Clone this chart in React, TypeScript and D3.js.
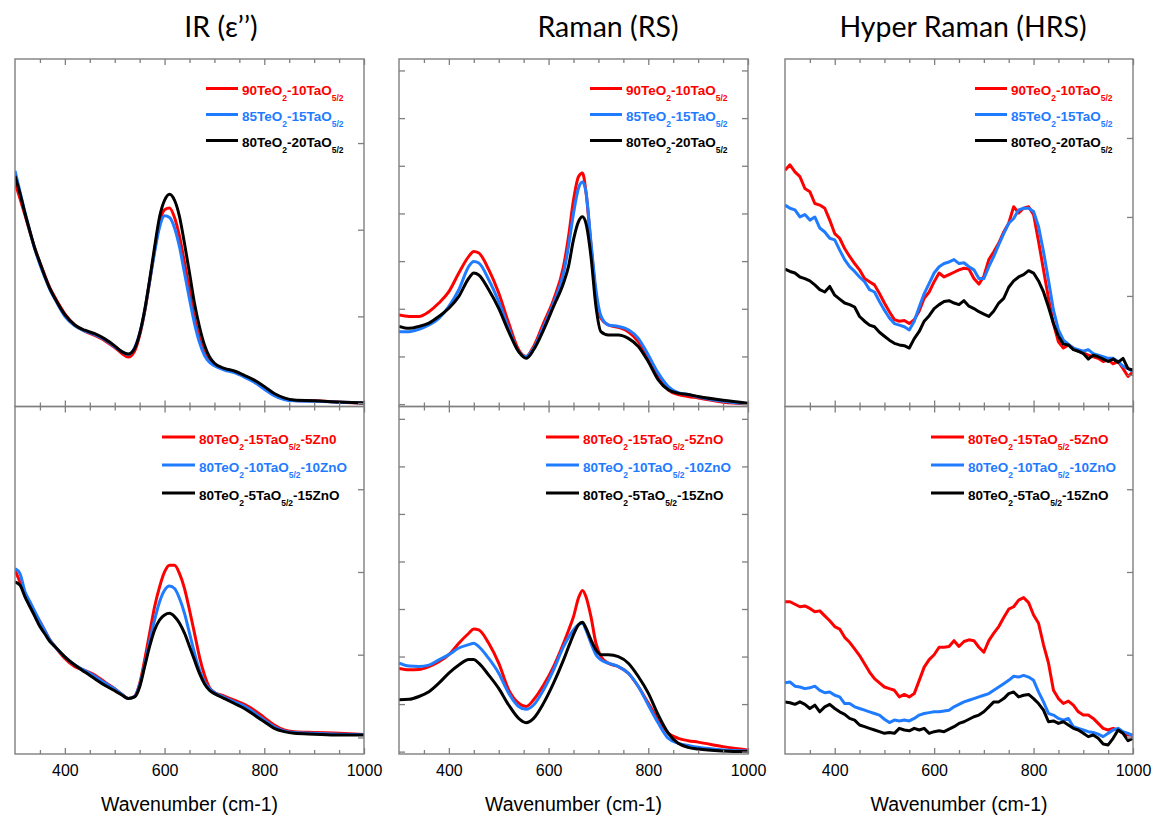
import React, { useEffect, useRef } from 'react';
import * as d3 from 'd3';

// colours of the three compositions in every panel
const RED = '#ff0000';
const BLUE = '#1f7bff';
const BLACK = '#000000';
const GRAY = '#7f7f7f';

// wavenumber grids (cm-1)
const irWave = [300, 310, 320, 330, 340, 350, 360, 370, 380, 400, 420, 440, 460, 480, 500, 515, 527, 540, 550, 560, 570, 580, 590, 600, 610, 620, 630, 640, 650, 660, 670, 680, 690, 700, 720, 740, 760, 780, 800, 820, 840, 860, 900, 950, 1000];
const ramanWave = [300, 320, 340, 360, 380, 400, 420, 440, 450, 460, 480, 500, 520, 540, 555, 570, 590, 610, 630, 640, 650, 660, 668, 675, 685, 695, 705, 720, 740, 760, 780, 800, 820, 840, 860, 880, 900, 950, 1000];
const hrsWave = [300, 310, 320, 330, 340, 350, 360, 370, 380, 390, 400, 410, 420, 430, 440, 450, 460, 470, 480, 490, 500, 510, 520, 530, 540, 550, 560, 570, 580, 590, 600, 610, 620, 630, 640, 650, 660, 670, 680, 690, 700, 710, 720, 730, 740, 750, 760, 770, 780, 790, 800, 810, 820, 830, 840, 850, 860, 870, 880, 890, 900, 910, 920, 930, 940, 950, 960, 970, 980, 990, 1000];

// IR, TeO2-TaO5/2
const irTopRed = [2.54, 2.36, 2.17, 1.97, 1.78, 1.62, 1.47, 1.33, 1.22, 1.03, 0.90, 0.83, 0.78, 0.72, 0.64, 0.57, 0.53, 0.60, 0.78, 1.05, 1.40, 1.76, 2.08, 2.23, 2.25, 2.14, 1.92, 1.62, 1.30, 0.98, 0.75, 0.58, 0.49, 0.44, 0.39, 0.36, 0.31, 0.25, 0.17, 0.09, 0.045, 0.03, 0.025, 0.01, 0.0];
const irTopBlue = [2.68, 2.44, 2.20, 1.98, 1.77, 1.60, 1.45, 1.31, 1.20, 1.00, 0.89, 0.83, 0.79, 0.73, 0.65, 0.59, 0.56, 0.64, 0.80, 1.06, 1.40, 1.74, 2.03, 2.16, 2.14, 2.02, 1.80, 1.50, 1.20, 0.92, 0.70, 0.55, 0.47, 0.43, 0.38, 0.35, 0.30, 0.24, 0.16, 0.085, 0.04, 0.025, 0.02, 0.01, 0.0];
const irTopBlack = [2.62, 2.42, 2.19, 1.98, 1.78, 1.62, 1.46, 1.32, 1.21, 1.02, 0.90, 0.84, 0.80, 0.74, 0.66, 0.59, 0.565, 0.63, 0.80, 1.07, 1.42, 1.80, 2.15, 2.34, 2.41, 2.34, 2.15, 1.84, 1.50, 1.15, 0.88, 0.67, 0.535, 0.46, 0.40, 0.37, 0.32, 0.265, 0.19, 0.11, 0.06, 0.035, 0.027, 0.012, 0.0];

// IR, TeO2-TaO5/2-ZnO
const irBotRed = [2.02, 1.88, 1.74, 1.62, 1.50, 1.40, 1.29, 1.18, 1.10, 0.955, 0.855, 0.81, 0.755, 0.67, 0.59, 0.52, 0.47, 0.50, 0.65, 0.935, 1.26, 1.58, 1.82, 2.00, 2.08, 2.08, 1.98, 1.80, 1.54, 1.26, 0.975, 0.755, 0.605, 0.545, 0.50, 0.45, 0.40, 0.33, 0.24, 0.15, 0.09, 0.07, 0.06, 0.05, 0.035];
const irBotBlue = [2.04, 1.98, 1.76, 1.64, 1.52, 1.40, 1.29, 1.18, 1.10, 0.975, 0.875, 0.81, 0.74, 0.66, 0.585, 0.52, 0.47, 0.495, 0.635, 0.875, 1.16, 1.42, 1.64, 1.78, 1.83, 1.80, 1.68, 1.50, 1.26, 1.02, 0.815, 0.67, 0.59, 0.54, 0.485, 0.43, 0.38, 0.30, 0.21, 0.13, 0.08, 0.06, 0.05, 0.04, 0.035];
const irBotBlack = [1.88, 1.84, 1.70, 1.58, 1.46, 1.34, 1.25, 1.16, 1.10, 0.975, 0.875, 0.79, 0.71, 0.63, 0.565, 0.51, 0.47, 0.49, 0.61, 0.855, 1.10, 1.30, 1.42, 1.48, 1.50, 1.46, 1.38, 1.26, 1.10, 0.935, 0.775, 0.65, 0.57, 0.53, 0.47, 0.41, 0.35, 0.27, 0.19, 0.11, 0.07, 0.05, 0.04, 0.03, 0.03];

// Raman
const ramTopRed = [1.87, 1.84, 1.84, 1.94, 2.12, 2.36, 2.75, 3.10, 3.20, 3.17, 2.82, 2.33, 1.70, 1.14, 1.00, 1.21, 1.70, 2.19, 2.89, 3.51, 4.28, 4.77, 4.85, 4.45, 3.35, 2.30, 1.80, 1.66, 1.61, 1.52, 1.31, 0.96, 0.58, 0.30, 0.20, 0.16, 0.13, 0.04, 0.01];
const ramTopBlue = [1.52, 1.52, 1.57, 1.66, 1.80, 2.05, 2.40, 2.89, 2.99, 2.96, 2.61, 2.15, 1.59, 1.10, 1.00, 1.17, 1.63, 2.12, 2.75, 3.31, 4.00, 4.53, 4.66, 4.45, 3.40, 2.40, 1.85, 1.66, 1.63, 1.56, 1.38, 1.03, 0.65, 0.37, 0.24, 0.20, 0.15, 0.06, 0.01];
const ramTopBlack = [1.63, 1.59, 1.63, 1.70, 1.84, 2.01, 2.26, 2.64, 2.75, 2.71, 2.40, 2.01, 1.52, 1.10, 0.96, 1.14, 1.56, 2.05, 2.54, 2.89, 3.45, 3.83, 3.93, 3.79, 3.10, 2.05, 1.52, 1.45, 1.45, 1.38, 1.21, 0.89, 0.51, 0.30, 0.23, 0.20, 0.16, 0.08, 0.02];
const ramBotRed = [1.75, 1.72, 1.73, 1.79, 1.89, 2.04, 2.28, 2.49, 2.58, 2.56, 2.28, 1.86, 1.30, 1.02, 0.95, 1.09, 1.40, 1.79, 2.28, 2.55, 2.84, 3.23, 3.39, 3.26, 2.84, 2.28, 2.00, 1.86, 1.79, 1.65, 1.37, 1.02, 0.67, 0.39, 0.28, 0.23, 0.20, 0.105, 0.035];
const ramBotBlue = [1.86, 1.80, 1.79, 1.82, 1.93, 2.04, 2.18, 2.25, 2.28, 2.21, 1.96, 1.65, 1.23, 0.95, 0.89, 0.98, 1.30, 1.72, 2.21, 2.40, 2.56, 2.67, 2.70, 2.56, 2.28, 2.04, 1.93, 1.86, 1.79, 1.65, 1.37, 0.98, 0.60, 0.28, 0.175, 0.13, 0.09, 0.035, 0.014];
const ramBotBlack = [1.09, 1.10, 1.16, 1.26, 1.44, 1.65, 1.82, 1.94, 1.94, 1.86, 1.61, 1.33, 0.98, 0.70, 0.61, 0.70, 1.02, 1.44, 1.93, 2.20, 2.46, 2.67, 2.72, 2.60, 2.35, 2.14, 2.04, 2.04, 2.00, 1.86, 1.58, 1.23, 0.77, 0.39, 0.175, 0.09, 0.056, 0.014, 0.0];

// Hyper Raman
const hrsTopRed = [2.59, 2.66, 2.57, 2.51, 2.36, 2.32, 2.17, 2.15, 2.11, 1.96, 1.79, 1.73, 1.60, 1.50, 1.41, 1.33, 1.22, 1.18, 1.14, 1.03, 0.91, 0.80, 0.70, 0.68, 0.69, 0.65, 0.70, 0.81, 0.97, 1.05, 1.18, 1.29, 1.24, 1.27, 1.30, 1.33, 1.35, 1.34, 1.22, 1.15, 1.25, 1.46, 1.56, 1.67, 1.81, 1.92, 2.13, 2.05, 2.11, 2.13, 2.03, 1.69, 1.33, 0.97, 0.65, 0.42, 0.34, 0.38, 0.34, 0.30, 0.28, 0.25, 0.23, 0.21, 0.17, 0.19, 0.14, 0.17, 0.08, -0.02, 0.04];
const hrsTopBlue = [2.15, 2.11, 2.09, 2.00, 2.03, 1.96, 2.00, 1.86, 1.81, 1.73, 1.71, 1.58, 1.46, 1.37, 1.31, 1.24, 1.18, 1.08, 1.05, 0.93, 0.82, 0.72, 0.65, 0.63, 0.61, 0.57, 0.68, 0.86, 1.03, 1.16, 1.29, 1.37, 1.41, 1.43, 1.46, 1.41, 1.42, 1.37, 1.33, 1.22, 1.22, 1.37, 1.50, 1.65, 1.79, 1.92, 1.98, 2.09, 2.11, 2.11, 2.07, 1.88, 1.56, 1.20, 0.82, 0.57, 0.44, 0.39, 0.34, 0.32, 0.30, 0.32, 0.27, 0.25, 0.23, 0.21, 0.21, 0.17, 0.11, 0.08, 0.04];
const hrsTopBlack = [1.34, 1.31, 1.29, 1.24, 1.22, 1.19, 1.14, 1.08, 1.05, 1.12, 1.01, 0.96, 0.91, 0.89, 0.86, 0.74, 0.68, 0.63, 0.61, 0.54, 0.49, 0.44, 0.40, 0.38, 0.37, 0.34, 0.46, 0.55, 0.68, 0.75, 0.84, 0.89, 0.93, 0.94, 0.91, 0.89, 0.94, 0.87, 0.84, 0.80, 0.77, 0.74, 0.81, 0.91, 0.97, 1.11, 1.19, 1.24, 1.27, 1.32, 1.29, 1.19, 1.05, 0.86, 0.65, 0.49, 0.39, 0.38, 0.32, 0.30, 0.27, 0.20, 0.25, 0.23, 0.20, 0.17, 0.20, 0.16, 0.21, 0.08, 0.06];
const hrsBotRed = [1.64, 1.64, 1.61, 1.58, 1.59, 1.56, 1.52, 1.53, 1.47, 1.41, 1.34, 1.31, 1.21, 1.15, 1.07, 0.99, 0.89, 0.79, 0.71, 0.66, 0.61, 0.59, 0.57, 0.49, 0.52, 0.49, 0.53, 0.69, 0.85, 0.94, 1.00, 1.09, 1.09, 1.10, 1.17, 1.10, 1.16, 1.18, 1.17, 1.09, 1.03, 1.17, 1.26, 1.34, 1.45, 1.55, 1.58, 1.66, 1.69, 1.63, 1.48, 1.38, 1.12, 0.90, 0.57, 0.47, 0.41, 0.44, 0.39, 0.31, 0.27, 0.27, 0.23, 0.17, 0.11, 0.09, 0.11, 0.09, 0.05, 0.03, 0.03];
const hrsBotBlue = [0.66, 0.67, 0.62, 0.61, 0.59, 0.60, 0.62, 0.57, 0.54, 0.55, 0.51, 0.49, 0.41, 0.41, 0.37, 0.35, 0.33, 0.31, 0.29, 0.27, 0.22, 0.18, 0.21, 0.20, 0.21, 0.20, 0.23, 0.27, 0.29, 0.30, 0.31, 0.31, 0.32, 0.33, 0.37, 0.40, 0.43, 0.45, 0.47, 0.49, 0.51, 0.53, 0.57, 0.61, 0.65, 0.69, 0.74, 0.73, 0.75, 0.73, 0.69, 0.55, 0.43, 0.29, 0.27, 0.23, 0.21, 0.23, 0.13, 0.11, 0.09, 0.07, 0.06, 0.04, 0.01, 0.05, 0.09, 0.11, 0.07, 0.05, 0.02];
const hrsBotBlack = [0.43, 0.42, 0.40, 0.43, 0.40, 0.35, 0.39, 0.31, 0.37, 0.40, 0.35, 0.31, 0.28, 0.23, 0.21, 0.15, 0.13, 0.11, 0.09, 0.07, 0.05, 0.06, 0.05, 0.11, 0.09, 0.08, 0.11, 0.09, 0.11, 0.05, 0.07, 0.08, 0.07, 0.10, 0.13, 0.17, 0.19, 0.22, 0.25, 0.27, 0.31, 0.37, 0.43, 0.43, 0.47, 0.53, 0.55, 0.49, 0.51, 0.52, 0.47, 0.41, 0.33, 0.19, 0.20, 0.17, 0.19, 0.15, 0.11, 0.09, 0.05, 0.01, 0.03, -0.01, -0.08, -0.09, -0.01, 0.09, 0.05, -0.04, -0.01];

// texts ("~" toggles subscript)
const titles = ['IR (\u03b5\u2019\u2019)', 'Raman (RS)', 'Hyper Raman (HRS)'];
const topLabels = ['90TeO~2~-10TaO~5/2', '85TeO~2~-15TaO~5/2', '80TeO~2~-20TaO~5/2'];
const botLabelsIR = ['80TeO~2~-15TaO~5/2~-5Zn0', '80TeO~2~-10TaO~5/2~-10ZnO', '80TeO~2~-5TaO~5/2~-15ZnO'];
const botLabels = ['80TeO~2~-15TaO~5/2~-5ZnO', '80TeO~2~-10TaO~5/2~-10ZnO', '80TeO~2~-5TaO~5/2~-15ZnO'];
const xLabel = 'Wavenumber (cm-1)';
const xMajor = [400, 600, 800, 1000];
const xMinor = [350, 450, 500, 550, 650, 700, 750, 850, 900, 950];

const W = 1152;
const H = 816;
const colX = [[15, 364], [399, 748], [785, 1133]];
const rowY = [[59, 406.5], [406.5, 754]];
const titleX = [221, 608, 963];

const panels = [
  { col: 0, row: 0, wave: irWave, series: [irTopRed, irTopBlue, irTopBlack], yDomain: [-0.04, 3.97], yTicks: [0, 1, 2, 3], left: false, labels: topLabels, smooth: true },
  { col: 1, row: 0, wave: ramanWave, series: [ramTopRed, ramTopBlue, ramTopBlack], yDomain: [-0.05, 7.24], yTicks: [0, 1, 2, 3, 4, 5, 6, 7], left: true, labels: topLabels, smooth: true },
  { col: 2, row: 0, wave: hrsWave, series: [hrsTopRed, hrsTopBlue, hrsTopBlack], yDomain: [-0.4, 4.0], yTicks: [0, 1, 2, 3], left: false, labels: topLabels, smooth: false },
  { col: 0, row: 1, wave: irWave, series: [irBotRed, irBotBlue, irBotBlack], yDomain: [-0.2, 4.0], yTicks: [0, 1, 2, 3], left: false, labels: botLabelsIR, smooth: true },
  { col: 1, row: 1, wave: ramanWave, series: [ramBotRed, ramBotBlue, ramBotBlack], yDomain: [-0.05, 7.26], yTicks: [0, 1, 2, 3, 4, 5, 6, 7], left: true, labels: botLabels, smooth: true },
  { col: 2, row: 1, wave: hrsWave, series: [hrsBotRed, hrsBotBlue, hrsBotBlack], yDomain: [-0.2, 4.0], yTicks: [0, 1, 2, 3], left: false, labels: botLabels, smooth: false },
];

const COLORS = [RED, BLUE, BLACK];

const styleAxis = (g, labelSize = 16) => {
  g.select('.domain').remove();
  g.attr('font-family', 'Liberation Sans, Arial, sans-serif').attr('font-size', labelSize);
  g.selectAll('.tick line').attr('stroke', GRAY).attr('stroke-width', 1.3);
  g.selectAll('.tick text').attr('fill', '#000');
};

const App = () => {
  const ref = useRef(null);

  useEffect(() => {
    const svg = d3.select(ref.current);
    svg.selectAll('*').remove();

    // titles
    titles.forEach((t, i) => {
      svg.append('text')
        .attr('x', titleX[i]).attr('y', 37)
        .attr('text-anchor', 'middle')
        .attr('font-family', 'Lato, Open Sans, sans-serif')
        .attr('font-size', 28.5)
        .text(t);
    });

    panels.forEach((p, i) => {
      const [x0, x1] = colX[p.col];
      const [y0, y1] = rowY[p.row];
      const x = d3.scaleLinear().domain([300, 1000]).range([x0, x1]);
      const y = d3.scaleLinear().domain(p.yDomain).range([y1, y0]);
      const g = svg.append('g');

      const clipId = `clip-${i}`;
      g.append('clipPath').attr('id', clipId)
        .append('rect').attr('x', x0).attr('y', y0).attr('width', x1 - x0).attr('height', y1 - y0);

      // spectra
      const line = d3.line()
        .x((_, j) => x(p.wave[j]))
        .y(d => y(d))
        .curve(p.smooth ? d3.curveMonotoneX : d3.curveLinear);
      p.series.forEach((s, k) => {
        g.append('path')
          .attr('d', line(s))
          .attr('fill', 'none')
          .attr('stroke', COLORS[k])
          .attr('stroke-width', 3)
          .attr('stroke-linejoin', 'round')
          .attr('clip-path', `url(#${clipId})`);
      });

      // frame
      g.append('rect')
        .attr('x', x0).attr('y', y0).attr('width', x1 - x0).attr('height', y1 - y0)
        .attr('fill', 'none').attr('stroke', GRAY).attr('stroke-width', 1.4);

      // x ticks, pointing inward on both edges
      g.append('g').attr('transform', `translate(0,${y1})`)
        .call(d3.axisBottom(x).tickValues(xMinor).tickSize(-4).tickFormat(() => ''))
        .call(styleAxis);
      g.append('g').attr('transform', `translate(0,${y1})`)
        .call(d3.axisBottom(x).tickValues(xMajor).tickSize(-6).tickPadding(10.5)
          .tickFormat(p.row === 1 ? d3.format('d') : () => ''))
        .call(styleAxis);
      g.append('g').attr('transform', `translate(0,${y0})`)
        .call(d3.axisTop(x).tickValues(xMinor).tickSize(-4).tickFormat(() => ''))
        .call(styleAxis);
      g.append('g').attr('transform', `translate(0,${y0})`)
        .call(d3.axisTop(x).tickValues(xMajor).tickSize(-6).tickFormat(() => ''))
        .call(styleAxis);

      // y ticks
      g.append('g').attr('transform', `translate(${x1},0)`)
        .call(d3.axisRight(y).tickValues(p.yTicks).tickSize(-6).tickFormat(() => ''))
        .call(styleAxis);
      if (p.left) {
        g.append('g').attr('transform', `translate(${x0},0)`)
          .call(d3.axisLeft(y).tickValues(p.yTicks).tickSize(-6).tickFormat(() => ''))
          .call(styleAxis);
      }

      // legend
      const top = p.row === 0;
      const textX = top ? x1 - 122 : x1 - 165;
      const lineX0 = top ? x1 - 158 : x1 - 202;
      const lineX1 = top ? x1 - 126 : x1 - 169;
      const base0 = top ? y0 + 36 : y0 + 37;
      const step = top ? 26 : 28;
      p.labels.forEach((lab, k) => {
        const by = base0 + k * step;
        g.append('line')
          .attr('x1', lineX0).attr('x2', lineX1)
          .attr('y1', by - 6.5).attr('y2', by - 6.5)
          .attr('stroke', COLORS[k]).attr('stroke-width', 3);
        const t = g.append('text')
          .attr('x', textX).attr('y', by)
          .attr('fill', COLORS[k])
          .attr('font-family', 'Liberation Sans, Arial, sans-serif')
          .attr('font-weight', 'bold')
          .attr('font-size', 13.5);
        lab.split('~').forEach((part, m) => {
          if (!part) return;
          const sub = m % 2 === 1;
          t.append('tspan')
            .attr('font-size', sub ? 8.5 : 13.5)
            .attr('dy', m === 0 ? 0 : sub ? 6 : -6)
            .text(part);
        });
      });

      // x axis title (bottom row)
      if (p.row === 1) {
        svg.append('text')
          .attr('x', (x0 + x1) / 2).attr('y', 811)
          .attr('text-anchor', 'middle')
          .attr('font-family', 'Liberation Sans, Arial, sans-serif')
          .attr('font-size', 19.5)
          .text(xLabel);
      }
    });
  }, []);

  return (
    <div style={{ position: 'absolute', left: 0, top: 0, width: W, height: H, background: '#fff' }}>
      <svg ref={ref} width={W} height={H} />
    </div>
  );
};

export default App;
